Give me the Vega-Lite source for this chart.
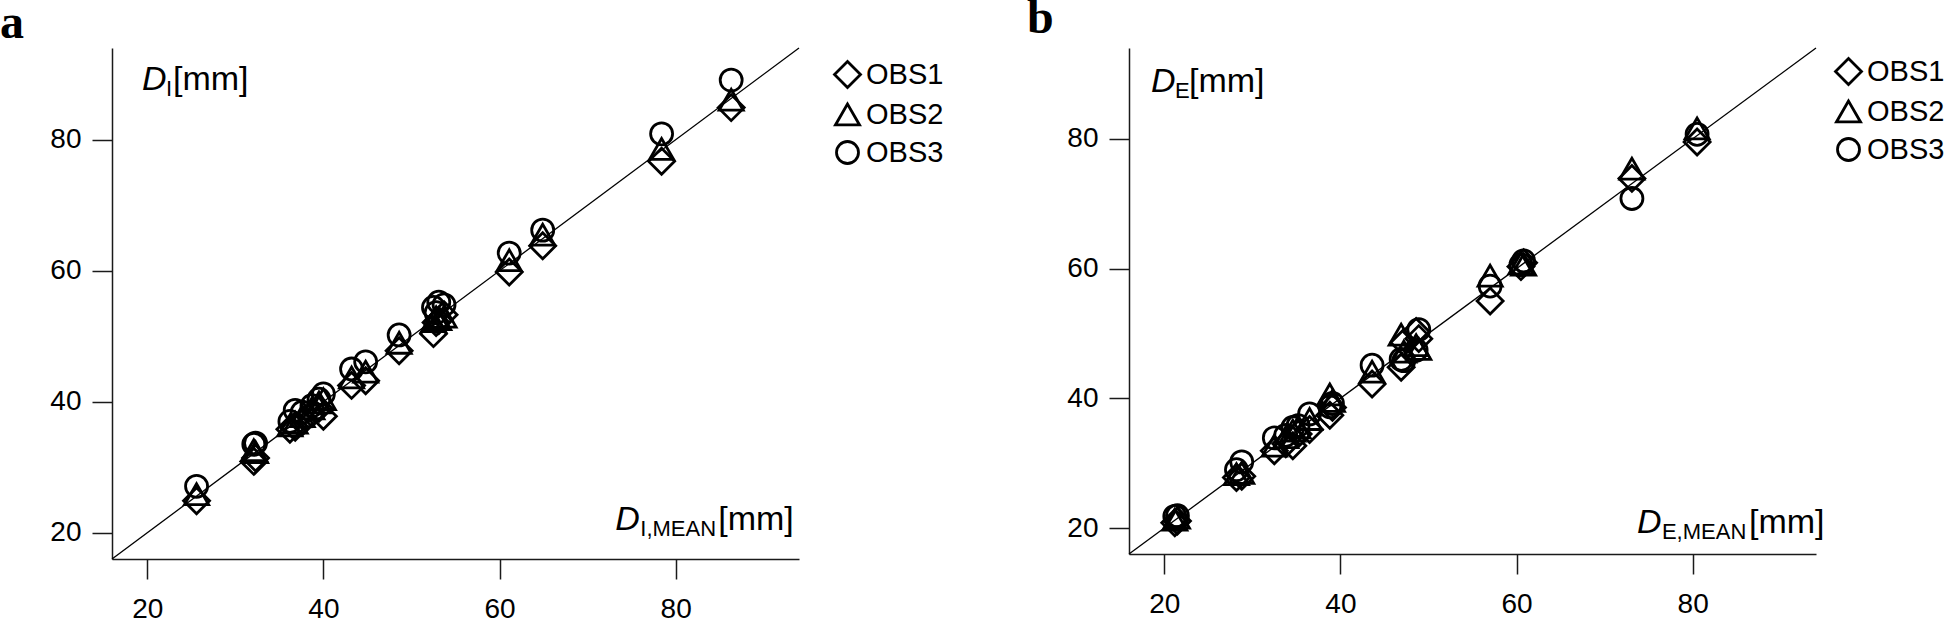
{
  "$schema": "https://vega.github.io/schema/vega-lite/v6.json",
  "padding": {"left": 0, "top": -5, "right": 0, "bottom": 0},
  "background": "white",
  "spacing": 71,
  "resolve": {"scale": {"shape": "independent", "size": "independent"}, "legend": {"shape": "independent", "size": "independent"}},
  "config": {
    "font": "Liberation Sans",
    "view": {"stroke": null},
    "axis": {"grid": false, "domainColor": "#1a1a1a", "domainWidth": 1.5, "tickColor": "#1a1a1a", "tickWidth": 1.5, "tickSize": 20, "labelFont": "Liberation Sans", "labelFontSize": 28, "labelColor": "black"},
    "axisX": {"labelPadding": 16},
    "axisY": {"labelPadding": 11},
    "legend": {"labelFont": "Liberation Sans", "labelFontSize": 29, "labelColor": "black", "rowPadding": 4, "labelOffset": 4, "symbolStrokeWidth": 2.8, "symbolStrokeColor": "black", "orient": "right"},
    "title": {"font": "Liberation Serif", "fontWeight": "bold", "fontSize": 48, "anchor": "start", "frame": "group", "baseline": "alphabetic", "color": "black"}
  },
  "datasets": {
    "a": [
      {"mean": 25.6, "OBS1": 24.9, "OBS2": 25.9, "OBS3": 27.1},
      {"mean": 32.1, "OBS1": 30.9, "OBS2": 32.6, "OBS3": 33.5},
      {"mean": 32.3, "OBS1": 31.4, "OBS2": 32.3, "OBS3": 33.7},
      {"mean": 36.2, "OBS1": 35.8, "OBS2": 36.4, "OBS3": 37.0},
      {"mean": 36.8, "OBS1": 36.1, "OBS2": 36.8, "OBS3": 38.7},
      {"mean": 37.6, "OBS1": 36.9, "OBS2": 37.8, "OBS3": 38.4},
      {"mean": 38.7, "OBS1": 38.2, "OBS2": 39.0, "OBS3": 39.4},
      {"mean": 39.5, "OBS1": 39.0, "OBS2": 39.9, "OBS3": 40.4},
      {"mean": 40.0, "OBS1": 37.8, "OBS2": 40.4, "OBS3": 41.2},
      {"mean": 43.2, "OBS1": 42.5, "OBS2": 43.7, "OBS3": 45.0},
      {"mean": 44.8, "OBS1": 43.2, "OBS2": 44.6, "OBS3": 46.1},
      {"mean": 48.6, "OBS1": 47.8, "OBS2": 49.0, "OBS3": 50.2},
      {"mean": 52.5, "OBS1": 50.4, "OBS2": 52.3, "OBS3": 54.4},
      {"mean": 52.8, "OBS1": 52.1, "OBS2": 52.9, "OBS3": 53.6},
      {"mean": 53.1, "OBS1": 52.4, "OBS2": 52.6, "OBS3": 55.2},
      {"mean": 53.7, "OBS1": 53.3, "OBS2": 53.0, "OBS3": 54.8},
      {"mean": 61.1, "OBS1": 59.8, "OBS2": 61.6, "OBS3": 62.7},
      {"mean": 64.9, "OBS1": 63.8, "OBS2": 65.5, "OBS3": 66.2},
      {"mean": 78.4, "OBS1": 76.7, "OBS2": 78.6, "OBS3": 80.9},
      {"mean": 86.3, "OBS1": 84.9, "OBS2": 86.1, "OBS3": 89.1}
    ],
    "b": [
      {"mean": 21.2, "OBS1": 20.8, "OBS2": 21.3, "OBS3": 21.8},
      {"mean": 21.5, "OBS1": 21.1, "OBS2": 21.6, "OBS3": 21.9},
      {"mean": 28.2, "OBS1": 27.8, "OBS2": 28.3, "OBS3": 29.0},
      {"mean": 28.8, "OBS1": 28.0, "OBS2": 28.5, "OBS3": 30.2},
      {"mean": 32.5, "OBS1": 31.9, "OBS2": 32.7, "OBS3": 33.9},
      {"mean": 33.8, "OBS1": 33.0, "OBS2": 34.0, "OBS3": 34.3},
      {"mean": 34.6, "OBS1": 32.7, "OBS2": 35.0, "OBS3": 35.5},
      {"mean": 35.2, "OBS1": 34.5, "OBS2": 35.5, "OBS3": 35.8},
      {"mean": 36.5, "OBS1": 35.2, "OBS2": 36.8, "OBS3": 37.6},
      {"mean": 38.8, "OBS1": 37.4, "OBS2": 40.6, "OBS3": 38.7},
      {"mean": 39.1, "OBS1": 38.6, "OBS2": 39.6, "OBS3": 39.2},
      {"mean": 43.6, "OBS1": 42.2, "OBS2": 44.1, "OBS3": 45.1},
      {"mean": 46.9, "OBS1": 44.8, "OBS2": 49.8, "OBS3": 46.0},
      {"mean": 47.2, "OBS1": 48.6, "OBS2": 47.2, "OBS3": 45.8},
      {"mean": 48.6, "OBS1": 50.3, "OBS2": 48.2, "OBS3": 47.4},
      {"mean": 48.9, "OBS1": 49.2, "OBS2": 47.6, "OBS3": 50.6},
      {"mean": 57.0, "OBS1": 55.0, "OBS2": 58.9, "OBS3": 57.3},
      {"mean": 60.5, "OBS1": 60.3, "OBS2": 60.8, "OBS3": 60.6},
      {"mean": 60.8, "OBS1": 60.9, "OBS2": 60.6, "OBS3": 61.2},
      {"mean": 73.1, "OBS1": 73.9, "OBS2": 75.4, "OBS3": 70.8},
      {"mean": 80.5, "OBS1": 79.5, "OBS2": 81.6, "OBS3": 80.7}
    ]
  },
  "hconcat": [
    {
      "width": 687,
      "height": 511,
      "title": {"text": "a", "offset": -1, "dx": -112},
      "layer": [
        {
          "data": {"values": [{}]},
          "mark": {"type": "rule", "color": "black", "strokeWidth": 1.3},
          "encoding": {"x": {"datum": 16, "type": "quantitative"}, "y": {"datum": 16, "type": "quantitative"}, "x2": {"datum": 94}, "y2": {"datum": 94}}
        },
        {
          "data": {"name": "a"},
          "transform": [{"fold": ["OBS1", "OBS2", "OBS3"], "as": ["obs", "value"]}],
          "mark": {"type": "point", "filled": false, "color": "black", "strokeWidth": 2.8, "opacity": 1},
          "encoding": {
            "x": {"field": "mean", "type": "quantitative", "scale": {"domain": [16, 94], "nice": false, "zero": false}, "axis": {"values": [20, 40, 60, 80], "title": null}},
            "y": {"field": "value", "type": "quantitative", "scale": {"domain": [16, 94], "nice": false, "zero": false}, "axis": {"values": [20, 40, 60, 80], "title": null}},
            "shape": {"field": "obs", "type": "nominal", "scale": {"domain": ["OBS1", "OBS2", "OBS3"], "range": ["diamond", "triangle-up", "circle"]}, "legend": {"title": null, "offset": 22, "padding": 12}},
            "size": {"field": "obs", "type": "ordinal", "scale": {"domain": ["OBS1", "OBS2", "OBS3"], "range": [676, 484, 380]}, "legend": {"title": null, "offset": 22, "padding": 12}}
          }
        },
        {"data": {"values": [{}]}, "mark": {"type": "text", "text": "D", "fontStyle": "italic", "fontSize": 34, "align": "left", "baseline": "alphabetic", "color": "black"}, "encoding": {"x": {"datum": 19.4, "type": "quantitative"}, "y": {"datum": 87.55, "type": "quantitative"}}},
        {"data": {"values": [{}]}, "mark": {"type": "text", "text": "I", "fontSize": 22, "dx": 24, "dy": 6, "align": "left", "baseline": "alphabetic", "color": "black"}, "encoding": {"x": {"datum": 19.4, "type": "quantitative"}, "y": {"datum": 87.55, "type": "quantitative"}}},
        {"data": {"values": [{}]}, "mark": {"type": "text", "text": "[mm]", "fontSize": 34, "dx": 31, "align": "left", "baseline": "alphabetic", "color": "black"}, "encoding": {"x": {"datum": 19.4, "type": "quantitative"}, "y": {"datum": 87.55, "type": "quantitative"}}},
        {"data": {"values": [{}]}, "mark": {"type": "text", "text": "D", "fontStyle": "italic", "fontSize": 34, "align": "left", "baseline": "alphabetic", "color": "black"}, "encoding": {"x": {"datum": 73.14, "type": "quantitative"}, "y": {"datum": 20.38, "type": "quantitative"}}},
        {"data": {"values": [{}]}, "mark": {"type": "text", "text": "I,MEAN", "fontSize": 22, "dx": 25, "dy": 6, "align": "left", "baseline": "alphabetic", "color": "black"}, "encoding": {"x": {"datum": 73.14, "type": "quantitative"}, "y": {"datum": 20.38, "type": "quantitative"}}},
        {"data": {"values": [{}]}, "mark": {"type": "text", "text": "[mm]", "fontSize": 34, "dx": 103, "align": "left", "baseline": "alphabetic", "color": "black"}, "encoding": {"x": {"datum": 73.14, "type": "quantitative"}, "y": {"datum": 20.38, "type": "quantitative"}}}
      ]
    },
    {
      "width": 687,
      "height": 506,
      "title": {"text": "b", "offset": 4, "dx": -102},
      "layer": [
        {
          "data": {"values": [{}]},
          "mark": {"type": "rule", "color": "black", "strokeWidth": 1.3},
          "encoding": {"x": {"datum": 16, "type": "quantitative"}, "y": {"datum": 16, "type": "quantitative"}, "x2": {"datum": 94}, "y2": {"datum": 94}}
        },
        {
          "data": {"name": "b"},
          "transform": [{"fold": ["OBS1", "OBS2", "OBS3"], "as": ["obs", "value"]}],
          "mark": {"type": "point", "filled": false, "color": "black", "strokeWidth": 2.8, "opacity": 1},
          "encoding": {
            "x": {"field": "mean", "type": "quantitative", "scale": {"domain": [16, 94], "nice": false, "zero": false}, "axis": {"values": [20, 40, 60, 80], "title": null}},
            "y": {"field": "value", "type": "quantitative", "scale": {"domain": [16, 94], "nice": false, "zero": false}, "axis": {"values": [20, 40, 60, 80], "title": null}},
            "shape": {"field": "obs", "type": "nominal", "scale": {"domain": ["OBS1", "OBS2", "OBS3"], "range": ["diamond", "triangle-up", "circle"]}, "legend": {"title": null, "offset": 9, "padding": 9}},
            "size": {"field": "obs", "type": "ordinal", "scale": {"domain": ["OBS1", "OBS2", "OBS3"], "range": [676, 484, 380]}, "legend": {"title": null, "offset": 9, "padding": 9}}
          }
        },
        {"data": {"values": [{}]}, "mark": {"type": "text", "text": "D", "fontStyle": "italic", "fontSize": 34, "align": "left", "baseline": "alphabetic", "color": "black"}, "encoding": {"x": {"datum": 18.5, "type": "quantitative"}, "y": {"datum": 87.2, "type": "quantitative"}}},
        {"data": {"values": [{}]}, "mark": {"type": "text", "text": "E", "fontSize": 22, "dx": 24, "dy": 6, "align": "left", "baseline": "alphabetic", "color": "black"}, "encoding": {"x": {"datum": 18.5, "type": "quantitative"}, "y": {"datum": 87.2, "type": "quantitative"}}},
        {"data": {"values": [{}]}, "mark": {"type": "text", "text": "[mm]", "fontSize": 34, "dx": 38, "align": "left", "baseline": "alphabetic", "color": "black"}, "encoding": {"x": {"datum": 18.5, "type": "quantitative"}, "y": {"datum": 87.2, "type": "quantitative"}}},
        {"data": {"values": [{}]}, "mark": {"type": "text", "text": "D", "fontStyle": "italic", "fontSize": 34, "align": "left", "baseline": "alphabetic", "color": "black"}, "encoding": {"x": {"datum": 73.67, "type": "quantitative"}, "y": {"datum": 19.19, "type": "quantitative"}}},
        {"data": {"values": [{}]}, "mark": {"type": "text", "text": "E,MEAN", "fontSize": 22, "dx": 25, "dy": 6, "align": "left", "baseline": "alphabetic", "color": "black"}, "encoding": {"x": {"datum": 73.67, "type": "quantitative"}, "y": {"datum": 19.19, "type": "quantitative"}}},
        {"data": {"values": [{}]}, "mark": {"type": "text", "text": "[mm]", "fontSize": 34, "dx": 112, "align": "left", "baseline": "alphabetic", "color": "black"}, "encoding": {"x": {"datum": 73.67, "type": "quantitative"}, "y": {"datum": 19.19, "type": "quantitative"}}}
      ]
    }
  ]
}
